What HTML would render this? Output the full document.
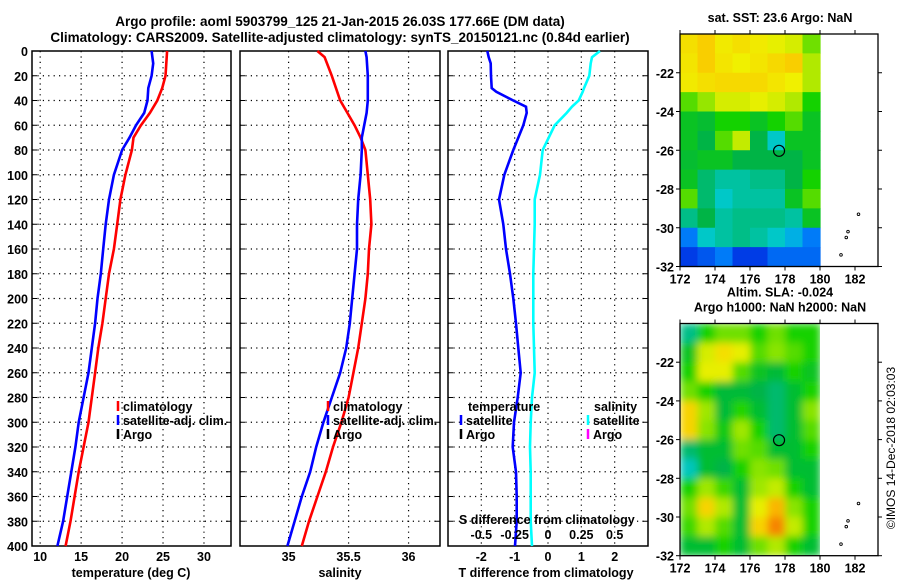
<!DOCTYPE html>
<html><head><meta charset="utf-8">
<style>
body{margin:0;background:#fff;}
svg{display:block;font-family:"Liberation Sans",sans-serif;font-weight:bold;}
</style></head>
<body>
<svg id="fig" width="900" height="580" viewBox="0 0 900 580" xmlns="http://www.w3.org/2000/svg">
<rect width="900" height="580" fill="#fff"/>
<text x="340" y="26" font-size="13.5" text-anchor="middle">Argo profile: aoml 5903799_125 21-Jan-2015 26.03S 177.66E (DM data)</text>
<text x="340" y="42" font-size="13.5" text-anchor="middle">Climatology: CARS2009. Satellite-adjusted climatology: synTS_20150121.nc (0.84d earlier)</text>
<g id="panels"></g>
<g id="maps"></g>
<text transform="translate(895,448) rotate(-90)" font-size="12" font-weight="normal" text-anchor="middle">©IMOS 14-Dec-2018 02:03:03</text>
</svg>
<script>
// ---- data ----
const depthT = [0,10,20,30,40,50,60,70,80,100,120,140,160,180,200,220,240,260,280,300,320,340,360,380,400];
const tempClim = [25.5,25.4,25.3,24.9,24.3,23.4,22.3,21.4,21.2,20.4,19.8,19.4,19.0,18.4,18.0,17.6,17.1,16.7,16.3,15.9,15.3,14.7,14.2,13.7,13.1];
const tempSat = [23.6,23.8,23.6,23.2,23.1,22.7,21.7,20.9,20.0,19.0,18.4,18.0,17.7,17.4,17.0,16.7,16.3,15.9,15.3,14.7,14.3,13.8,13.3,12.8,12.1];
const depthS = [0,5,20,40,50,60,70,80,100,120,140,160,180,200,220,240,260,280,300,320,340,360,380,400];
const salClim = [35.24,35.30,35.36,35.43,35.49,35.55,35.60,35.64,35.66,35.68,35.69,35.67,35.66,35.64,35.61,35.58,35.54,35.50,35.44,35.37,35.31,35.24,35.17,35.11];
const salSat = [35.64,35.65,35.66,35.66,35.65,35.63,35.61,35.61,35.60,35.58,35.57,35.57,35.55,35.53,35.51,35.48,35.43,35.36,35.29,35.23,35.18,35.11,35.05,34.99];
const depthD = [0,5,10,20,30,33,40,45,50,60,80,100,120,140,160,180,200,220,240,260,280,300,320,340,360,380,400];
const tDiff = [-1.82,-1.78,-1.72,-1.71,-1.69,-1.55,-1.04,-0.66,-0.64,-0.74,-1.04,-1.31,-1.47,-1.34,-1.26,-1.14,-1.04,-0.96,-0.89,-0.82,-0.91,-1.02,-1.06,-0.96,-0.94,-0.94,-0.99];
const sDiff = [0.39,0.33,0.32,0.31,0.27,0.26,0.23,0.18,0.14,0.05,-0.04,-0.06,-0.10,-0.10,-0.105,-0.11,-0.11,-0.11,-0.105,-0.10,-0.12,-0.13,-0.135,-0.13,-0.13,-0.13,-0.12];
const depthTicks = [0,20,40,60,80,100,120,140,160,180,200,220,240,260,280,300,320,340,360,380,400];
const tTicks = [10,15,20,25,30];
const sTicks = [35,35.5,36];
const dTicks = [-2,-1,0,1,2];
const sdTicks = [-0.5,-0.25,0,0.25,0.5];
const mapLatTicks = [-22,-24,-26,-28,-30,-32];
const mapLonTicks = [172,174,176,178,180,182];
const sstGrid = [
[0.78,0.81,0.76,0.78,0.76,0.74,0.72,0.62],
[0.77,0.81,0.77,0.75,0.77,0.79,0.81,0.68],
[0.76,0.78,0.79,0.79,0.79,0.77,0.75,0.68],
[0.60,0.65,0.72,0.72,0.74,0.72,0.68,0.55],
[0.50,0.48,0.55,0.55,0.50,0.55,0.60,0.50],
[0.50,0.45,0.60,0.70,0.45,0.35,0.50,0.50],
[0.48,0.50,0.50,0.45,0.45,0.45,0.45,0.50],
[0.50,0.42,0.38,0.38,0.40,0.40,0.45,0.55],
[0.60,0.42,0.35,0.38,0.38,0.38,0.50,0.60],
[0.40,0.45,0.38,0.40,0.40,0.40,0.38,0.50],
[0.22,0.35,0.38,0.40,0.38,0.35,0.30,0.22],
[0.15,0.18,0.22,0.15,0.15,0.20,0.20,0.20]];
const slaGrid = [
[0.40,0.55,0.62,0.62,0.55,0.62,0.55,0.55],
[0.50,0.72,0.78,0.74,0.60,0.64,0.60,0.55],
[0.55,0.74,0.74,0.60,0.50,0.47,0.55,0.50],
[0.62,0.55,0.47,0.47,0.45,0.42,0.48,0.55],
[0.80,0.66,0.47,0.56,0.48,0.42,0.48,0.64],
[0.80,0.64,0.52,0.66,0.55,0.42,0.48,0.60],
[0.42,0.48,0.48,0.62,0.60,0.48,0.48,0.55],
[0.36,0.48,0.45,0.55,0.64,0.62,0.48,0.48],
[0.55,0.66,0.58,0.48,0.66,0.70,0.55,0.48],
[0.62,0.80,0.68,0.48,0.74,0.85,0.64,0.55],
[0.58,0.68,0.60,0.48,0.80,0.92,0.70,0.55],
[0.48,0.48,0.55,0.48,0.62,0.68,0.55,0.48]];
const argoLon = 177.66, argoLat = -26.03;

const NS = "http://www.w3.org/2000/svg";
function mk(tag, attrs, parent){const e=document.createElementNS(NS,tag);for(const k in attrs)e.setAttribute(k,attrs[k]);parent.appendChild(e);return e;}
const P = document.getElementById('panels');
const top0 = 51, bot0 = 546;
const yD = d => top0 + d*(bot0-top0)/400;
function panel(name, x0, x1, xmin, xmax){
  const g = mk('g',{},P);
  
  
  const xf = v => x0 + (v-xmin)*(x1-x0)/(xmax-xmin);
  return {g, xf, x0, x1};
}
function frame(p, xticks, labelFn, showY){
  const {g,xf,x0,x1}=p;
  depthTicks.forEach(d=>{
    const y=yD(d);
    if(d>0&&d<400){const l=mk('line',{x1:x0,x2:x1,y1:y,y2:y,stroke:'#000','stroke-width':1.2,'stroke-dasharray':'1.2 4.2'},g);}
    mk('line',{x1:x0,x2:x0+5,y1:y,y2:y,stroke:'#000','stroke-width':1},g);
    mk('line',{x1:x1-5,x2:x1,y1:y,y2:y,stroke:'#000','stroke-width':1},g);
    if(showY){const t=mk('text',{x:x0-4,y:y+5,'font-size':12.5,'text-anchor':'end'},g);t.textContent=d;}
  });
  xticks.forEach(v=>{
    const x=xf(v);
    const l=mk('line',{x1:x,x2:x,y1:top0,y2:bot0,stroke:'#000','stroke-width':1.2,'stroke-dasharray':'1.2 4.2'},g);
    
    const t=mk('text',{x:x,y:561,'font-size':12.5,'text-anchor':'middle'},g);t.textContent=labelFn(v);
    
  });
  mk('rect',{x:x0,y:top0,width:x1-x0,height:bot0-top0,fill:'none',stroke:'#000','stroke-width':1.5},g);
}
function line(p, vals, depths, color, name){
  const pts = vals.map((v,i)=>p.xf(v).toFixed(1)+','+yD(depths[i]).toFixed(1)).join(' ');
  const pl = mk('polyline',{points:pts,fill:'none',stroke:color,'stroke-width':2.6},p.g);
  
  
}
function txt(g,x,y,s,size,name,anchor){const t=mk('text',{x:x,y:y,'font-size':size,'text-anchor':anchor||'start'},g);t.textContent=s;return t;}
function legendEntry(g,x,y,color,label){
  const l=mk('line',{x1:x,x2:x,y1:y-10,y2:y,stroke:color,'stroke-width':2.5},g);
  
  txt(g,x+5,y,label,12.5,'legend-entry');
}
// panel 1
const p1 = panel('temperature-panel',32,231,9.0,33.3);
frame(p1,tTicks,v=>v,true);
line(p1,tempClim,depthT,'#ff0000','climatology-temp-line');
line(p1,tempSat,depthT,'#0000ff','satellite-temp-line');
legendEntry(p1.g,118,411,'#ff0000','climatology');
legendEntry(p1.g,118,425,'#0000ff','satellite-adj. clim.');
legendEntry(p1.g,118,439,'#000','Argo');
txt(p1.g,131,577,'temperature (deg C)',12.5,'x-axis-title','middle');
// panel 2
const p2 = panel('salinity-panel',240,440,34.595,36.262);
frame(p2,sTicks,v=>v,false);
line(p2,salClim,depthS,'#ff0000','climatology-salinity-line');
line(p2,salSat,depthS,'#0000ff','satellite-salinity-line');
legendEntry(p2.g,328,411,'#ff0000','climatology');
legendEntry(p2.g,328,425,'#0000ff','satellite-adj. clim.');
legendEntry(p2.g,328,439,'#000','Argo');
txt(p2.g,340,577,'salinity',12.5,'x-axis-title','middle');
// panel 3
const p3 = panel('difference-panel',448,648,-3,3);
frame(p3,dTicks,v=>v,false);
line(p3,sDiff.map(v=>v*4),depthD,'#00ffff','salinity-diff-line');
line(p3,tDiff,depthD,'#0000ff','temperature-diff-line');
txt(p3.g,468,411,'temperature',12.5,'legend-title');
legendEntry(p3.g,461,425,'#0000ff','satellite');
legendEntry(p3.g,461,439,'#000','Argo');
txt(p3.g,594,411,'salinity',12.5,'legend-title');
legendEntry(p3.g,588,425,'#00ffff','satellite');
legendEntry(p3.g,588,439,'#ff00ff','Argo');
txt(p3.g,459,524,'S difference from climatology',12.5,'s-axis-title');
sdTicks.forEach(v=>txt(p3.g,p3.xf(v*4),539,String(v),12.5,'s-tick-label','middle'));
txt(p3.g,546,577,'T difference from climatology',12.5,'x-axis-title','middle');

// ---- maps ----
const M = document.getElementById('maps');
function sstColor(v){
  const stops=[[0,[0,0,160]],[0.15,[0,60,230]],[0.25,[0,150,255]],[0.35,[0,200,200]],[0.45,[0,180,70]],[0.55,[20,210,0]],[0.65,[150,230,0]],[0.75,[240,240,0]],[0.82,[250,200,0]],[0.9,[250,150,0]],[1,[230,60,0]]];
  for(let i=1;i<stops.length;i++){if(v<=stops[i][0]){const a=stops[i-1],b=stops[i],t=(v-a[0])/(b[0]-a[0]);return 'rgb('+a[1].map((c,j)=>Math.round(c+(b[1][j]-c)*t)).join(',')+')';}}
  return 'rgb(230,60,0)';
}
function map(name, top, bottom, grid, title1, title2, blur){
  const g=mk('g',{},M);
  
  
  const L=680,R=878;
  const xL=lon=>L+(lon-172)*17.5;
  const yL=lat=>top+(-20-lat)*(bottom-top)/12;
  const cg=mk('g',{},g);
  if(blur){const cp=mk('clipPath',{id:name+'-clip'},g);mk('rect',{x:L,y:top,width:xL(180)-L,height:bottom-top},cp);cg.setAttribute('clip-path','url(#'+name+'-clip)');}
  const inner=mk('g',blur?{filter:'url(#blur)'}:{},cg);
  grid.forEach((row,r)=>row.forEach((v,c)=>{
    const x=xL(172+c),y=yL(-20-r);
    const cell=mk('rect',{x:x,y:y,width:17.5+0.6,height:(bottom-top)/12+0.6,fill:sstColor(v)},inner);
    
    
  }));
  mk('rect',{x:L,y:top,width:R-L,height:bottom-top,fill:'none',stroke:'#000','stroke-width':1.3},g);
  mapLatTicks.forEach(lat=>{const y=yL(lat);
    mk('line',{x1:L-4,x2:L,y1:y,y2:y,stroke:'#000'},g);mk('line',{x1:R,x2:R+4,y1:y,y2:y,stroke:'#000'},g);
    txt(g,L-6,y+5,String(lat),12.5,'map-lat-label','end');});
  mapLonTicks.forEach(lon=>{const x=xL(lon);
    mk('line',{x1:x,x2:x,y1:bottom,y2:bottom+4,stroke:'#000'},g);mk('line',{x1:x,x2:x,y1:top-4,y2:top,stroke:'#000'},g);
    txt(g,x,bottom+17,String(lon),12.5,'map-lon-label','middle');});
  const c=mk('circle',{cx:xL(argoLon),cy:yL(argoLat),r:5.5,fill:'none',stroke:'#000','stroke-width':1.2},g);
  
  [[182.2,-29.3],[181.6,-30.2],[181.5,-30.5],[181.2,-31.4]].forEach(p=>{const d=mk('circle',{cx:xL(p[0]),cy:yL(p[1]),r:1.3,fill:'none',stroke:'#000','stroke-width':0.9},g);});
  txt(g,780,top-(title2?27:12),title1,12.5,'map-title','middle');
  if(title2) txt(g,780,top-12,title2,12.5,'map-title','middle');
}
const defs=mk('defs',{},M);
const f=mk('filter',{id:'blur',x:'-10%',y:'-10%',width:'120%',height:'120%'},defs);
mk('feGaussianBlur',{stdDeviation:4},f);
map('sst-map',34,266.5,sstGrid,'sat. SST: 23.6 Argo: NaN',null,false);
map('sla-map',323.5,555.7,slaGrid,'Altim. SLA: -0.024','Argo h1000: NaN h2000: NaN',true);
</script>
</body></html>
